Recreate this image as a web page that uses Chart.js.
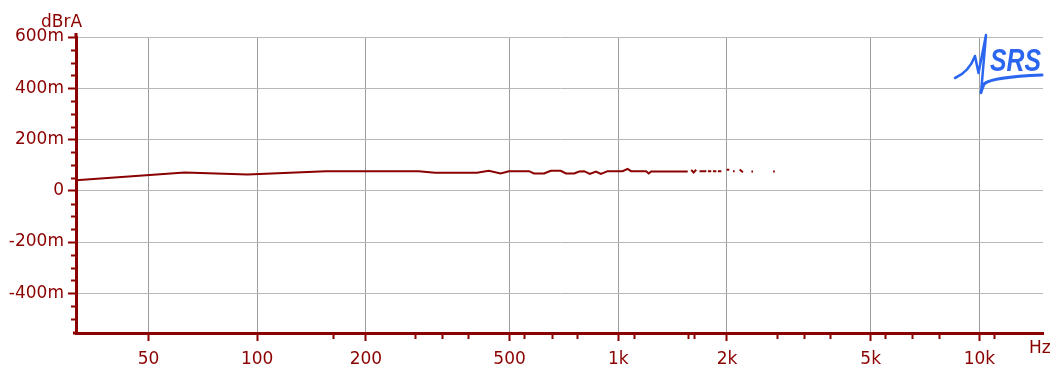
<!DOCTYPE html>
<html>
<head>
<meta charset="utf-8">
<script src="https://cdn.jsdelivr.net/npm/chart.js@4.4.1/dist/chart.umd.min.js"></script>
<style>
  body { margin: 0; background: #fff; }
  #wrap { width: 1050px; height: 368px; }
</style>
</head>
<body>
<div id="wrap"><canvas id="levelChart"></canvas></div>
<script>
// frequency (Hz) and level (milli-dBrA); null = gap in the trace
const freqs = [31.5, 63, 94, 155, 280, 311, 406, 438, 472, 498, 566, 584, 623, 650, 693, 716, 755, 779,
    804, 834, 867, 895, 934, 1028, 1061, 1085, 1194, 1214, 1233, 1557, 1575,
    1592, 1616, 1644, 1660,
    1679, 1753, 1762, 1771, 1809, 1818, 1828, 1868, 1878, 1887, 1929, 1960,
    1996, 2030, 2050, 2078, 2100, 2130, 2168, 2214, 2280, 2337, 2361, 2500, 2683, 2713];
const levels = [41.5, 71.3, 63.5, 76.5, 76.5, 70, 70, 78, 67.5, 76.5, 76.5, 67.5, 67.5, 78, 78, 67.5, 67.5, 75,
    76.5, 65.5, 75, 65.5, 76.5, 76.5, 85.5, 76.5, 76.5, 67.5, 75, 75, null,
    81.7, 71.3, 81.7, null,
    76.5, 76.5, null, 76.5, 76.5, null, 76.5, 76.5, null, 76.5, 76.5, null,
    81.7, 81.7, null, 76.5, 76.5, null, 83, 72.6, null, 75.2, 75.2, null, 75.2, 75.2];

const xMajorTicks = [50, 100, 200, 500, 1000, 2000, 5000, 10000];
const xTickLabels = ['50', '100', '200', '500', '1k', '2k', '5k', '10k'];
const xMinorTicks = [162, 273, 324, 384, 547, 654, 769, 1104, 1559, 1624, 2750, 3263, 3852, 5492, 6515, 7725, 11006];
const yMajorTicks = [-400, -200, 0, 200, 400, 600];
const yMinorTicks = [-500, -450, -350, -300, -250, -150, -100, -50, 50, 100, 150, 250, 300, 350, 450, 500, 550];

const red = '#8b0000';
const font = { family: 'DejaVu Sans', size: 17 };

const decor = {
    id: 'decor',
    afterDraw(chart) {
        const ctx = chart.ctx;
        const xs = chart.scales.x, ys = chart.scales.y;
        const a = chart.chartArea;
        ctx.save();
        ctx.strokeStyle = red;
        ctx.lineWidth = 2;
        ctx.beginPath();
        xMinorTicks.forEach(v => {
            const px = Math.round(xs.getPixelForValue(v)) + 0.5;
            ctx.moveTo(px, a.bottom); ctx.lineTo(px, a.bottom + 6);
        });
        yMinorTicks.forEach(v => {
            const py = Math.round(ys.getPixelForValue(v)) + 0.5;
            ctx.moveTo(a.left, py); ctx.lineTo(a.left - 5, py);
        });
        ctx.stroke();
        // axis overhang
        ctx.lineWidth = 3;
        ctx.beginPath();
        ctx.moveTo(a.left, a.top); ctx.lineTo(a.left, a.top - 4);
        ctx.moveTo(a.left, a.bottom); ctx.lineTo(a.left - 3, a.bottom);
        ctx.stroke();

        ctx.fillStyle = red;
        ctx.font = '17px "DejaVu Sans"';
        ctx.textBaseline = 'alphabetic';
        ctx.textAlign = 'left';
        ctx.fillText('dBrA', 41, 27);
        ctx.fillText('Hz', 1029, 353);

        // SRS logo
        ctx.strokeStyle = '#2a66f0';
        ctx.lineCap = 'round';
        ctx.lineJoin = 'round';
        ctx.lineWidth = 2.5;
        ctx.beginPath();
        ctx.moveTo(955, 78);
        ctx.quadraticCurveTo(969, 72, 975, 56);
        ctx.lineTo(978.5, 73);
        ctx.lineTo(986, 35);
        ctx.lineTo(981, 93);
        ctx.stroke();
        ctx.lineWidth = 3;
        ctx.beginPath();
        ctx.moveTo(981, 92);
        ctx.lineTo(984, 84);
        ctx.quadraticCurveTo(992, 77, 1042, 75);
        ctx.stroke();
        ctx.fillStyle = '#2a66f0';
        ctx.font = 'italic bold 31px "Liberation Sans"';
        const w = ctx.measureText('SRS').width;
        ctx.translate(990, 70.5);
        ctx.scale(51 / w, 1);
        ctx.fillText('SRS', 0, 0);
        ctx.restore();
    }
};

new Chart(document.getElementById('levelChart'), {
    type: 'line',
    data: {
        datasets: [{
            data: freqs.map((f, i) => ({ x: f, y: levels[i] })),
            borderColor: red,
            borderWidth: 2,
            pointRadius: 0,
            tension: 0,
            spanGaps: false
        }]
    },
    options: {
        responsive: true,
        maintainAspectRatio: false,
        animation: false,
        layout: { padding: { top: 37, right: 7, left: 0, bottom: 0 } },
        plugins: { legend: { display: false }, tooltip: { enabled: false } },
        scales: {
            x: {
                type: 'logarithmic',
                min: 31.5,
                max: 15000,
                afterBuildTicks: s => { s.ticks = xMajorTicks.map(v => ({ value: v })); },
                afterFit: s => { s.height = 35; },
                ticks: {
                    color: red,
                    font: font,
                    padding: 8,
                    autoSkip: false,
                    maxRotation: 0,
                    callback: v => xTickLabels[xMajorTicks.indexOf(v)]
                },
                grid: { color: '#9c9c9c', lineWidth: 1, tickLength: 8, tickColor: red, tickWidth: 2 },
                border: { display: true, color: red, width: 3 }
            },
            y: {
                min: -555,
                max: 600,
                afterBuildTicks: s => { s.ticks = yMajorTicks.map(v => ({ value: v })); },
                afterFit: s => { s.width = 76; },
                ticks: {
                    color: red,
                    font: font,
                    padding: 4,
                    callback: v => v === 0 ? '0' : v + 'm'
                },
                grid: { color: '#b8b8b8', lineWidth: 1, tickLength: 8, tickColor: red, tickWidth: 2 },
                border: { display: true, color: red, width: 3 }
            }
        }
    },
    plugins: [decor]
});
</script>
</body>
</html>
